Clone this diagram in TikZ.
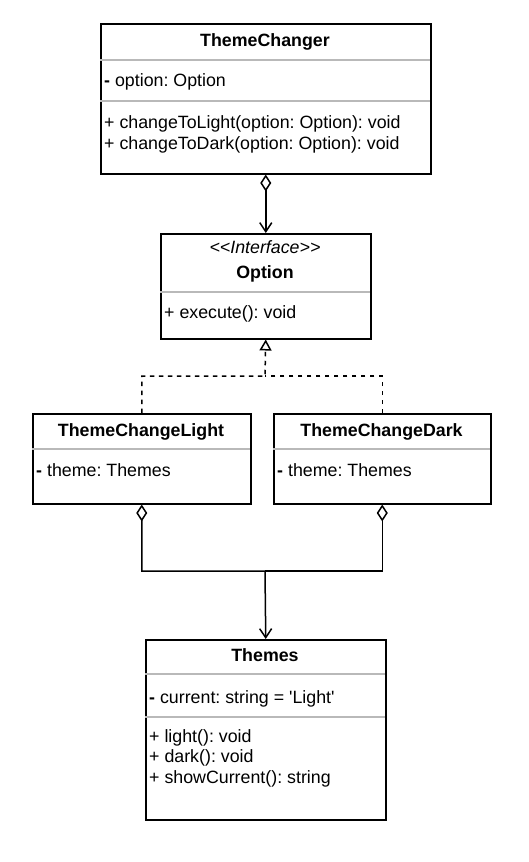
\documentclass[tikz,border=0pt]{standalone}
\usepackage{fontspec}
\setmainfont{Liberation Sans}
\usetikzlibrary{arrows.meta}
\frenchspacing
\begin{document}
\begin{tikzpicture}[x=1pt,y=-1pt]
\tikzstyle{cls}=[draw,line width=1.5pt,anchor=north west,inner sep=0pt]
\tikzstyle{divider}=[gray!55,line width=1.2pt]
\tikzstyle{title}=[anchor=base,inner sep=0pt,font=\bfseries\fontsize{17.8}{21}\selectfont]
\tikzstyle{stereo}=[anchor=base,inner sep=0pt,font=\itshape\fontsize{17.8}{21}\selectfont]
\tikzstyle{member}=[anchor=base west,inner sep=0pt,font=\fontsize{17.8}{21}\selectfont]
\tikzstyle{aggr}=[line width=1.5pt,arrows={{Diamond[open,length=17pt,width=11pt]}-{Straight Barb[length=9pt,width=12pt]}}]
\tikzstyle{aggrStart}=[line width=1.5pt,arrows={{Diamond[open,length=17pt,width=11pt]}-}]
\tikzstyle{real}=[line width=1.5pt,dash pattern=on 4.5pt off 4.5pt,arrows={-{Triangle[open,length=11pt,width=12pt]}}]
\tikzstyle{dashline}=[line width=1.5pt,dash pattern=on 4.5pt off 4.5pt]

\useasboundingbox (0,0) rectangle (528,862);

\node[cls,minimum width=330pt,minimum height=150pt] (changer) at (100,23) {};
\node[title] (changerTitle) at (265,46) {ThemeChanger};
\draw[divider] (100,60) -- (430,60);
\node[member] (changerOption) at (104,86) {\textbf{-} option: Option};
\draw[divider] (100,101) -- (430,101);
\node[member] (changerLight) at (104,128) {+ changeToLight(option: Option): void};
\node[member] (changerDark) at (104,149) {+ changeToDark(option: Option): void};

\node[cls,minimum width=210pt,minimum height=105pt] (option) at (160,233) {};
\node[stereo] (optionStereo) at (265,253) {<{}<Interface>{}>};
\node[title] (optionTitle) at (265,278) {Option};
\draw[divider] (160,292) -- (370,292);
\node[member] (optionExecute) at (164,318) {+ execute(): void};

\node[cls,minimum width=218pt,minimum height=90pt] (light) at (32,413) {};
\node[title] (lightTitle) at (141,436) {ThemeChangeLight};
\draw[divider] (32,449) -- (250,449);
\node[member] (lightTheme) at (36,476) {\textbf{-} theme: Themes};

\node[cls,minimum width=217pt,minimum height=90pt] (dark) at (273,413) {};
\node[title] (darkTitle) at (381.5,436) {ThemeChangeDark};
\draw[divider] (273,449) -- (490,449);
\node[member] (darkTheme) at (277,476) {\textbf{-} theme: Themes};

\node[cls,minimum width=240pt,minimum height=180pt] (themes) at (145,639) {};
\node[title] (themesTitle) at (265,661) {Themes};
\draw[divider] (145,674) -- (385,674);
\node[member] (themesCurrent) at (149,703) {\textbf{-} current: string = \textquotesingle Light\textquotesingle};
\draw[divider] (145,717) -- (385,717);
\node[member] (themesLight) at (149,742) {+ light(): void};
\node[member] (themesDark) at (149,762) {+ dark(): void};
\node[member] (themesShow) at (149,783) {+ showCurrent(): string};

\coordinate (realJoin) at (265,376);
\coordinate (aggrJoin) at (265,571);

\draw[aggr] (changer) -- (option);
\draw[real] (light.north) |- (realJoin) -- (option.south);
\draw[dashline] (dark.north) |- (realJoin);
\draw[aggr] (light.south) |- (aggrJoin) -- (themes.north);
\draw[aggrStart] (dark.south) |- (aggrJoin);

\end{tikzpicture}
\end{document}
